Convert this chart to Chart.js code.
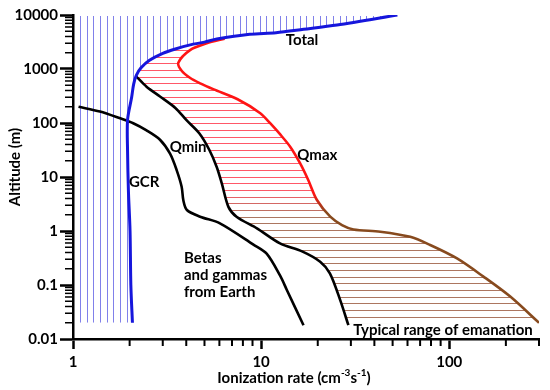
<!DOCTYPE html>
<html><head><meta charset="utf-8">
<script src="https://cdn.jsdelivr.net/npm/chart.js@4.4.1/dist/chart.umd.min.js"></script>
<style>html,body{margin:0;padding:0;background:#fff}</style>
</head><body>
<canvas id="c" width="550" height="390"></canvas>
<script>
// ---- data ----
const totalX = [2.07, 2.03, 2.01, 1.97, 1.95, 1.95, 2.05, 2.1, 2.17, 2.3, 2.55, 3.0, 3.5, 4.2, 5.0, 5.81, 8.7, 12.0, 16.8, 25.3, 53];
const totalY = [0.02, 0.1, 1, 5.7, 30, 114, 300, 520, 760, 1050, 1450, 1950, 2350, 2800, 3150, 3600, 4400, 4700, 5430, 6530, 10000];

const qmaxX = [6.4, 5.14, 4.19, 3.63, 3.78, 4.2, 4.74, 5.6, 7.5, 9.9, 11.2, 12.6, 14.3, 16.1, 17.8, 19.8, 23.3, 26.9, 31, 43, 62, 79.2, 110, 152, 211, 300];
const qmaxY = [3650, 2990, 2240, 1300, 930, 680, 543, 420, 275, 152, 98, 62, 36, 18, 8.8, 3.75, 1.84, 1.29, 1.07, 0.97, 0.78, 0.55, 0.31, 0.143, 0.061, 0.02];

const qminX = [2.16, 2.46, 2.9, 3.5, 4.0, 4.7, 5.3, 5.8, 6.18, 6.7, 7.4, 9.5, 12.6, 16.5, 20.6, 23.2, 26.3, 29.1];
const qminY = [740, 470, 310, 190, 114, 64, 32, 15.5, 7.6, 2.8, 1.84, 1.12, 0.59, 0.42, 0.27, 0.164, 0.053, 0.018];

const betasX = [1.07, 1.39, 1.78, 2.09, 2.46, 2.9, 3.28, 3.56, 3.78, 3.86, 4.03, 4.74, 6.04, 9.1, 10.7, 12.6, 13.7, 16.8];
const betasY = [200, 163, 122, 99, 73, 49, 27, 13.3, 6.6, 3.7, 2.45, 1.84, 1.39, 0.56, 0.38, 0.15, 0.081, 0.018];

const xTickValues = [1, 10, 100];
const xTickLabels = ['1', '10', '100'];
const yTickValues = [0.01, 0.1, 1, 10, 100, 1000, 10000];
const yTickLabels = ['0.01', '0.1', '1', '10', '100', '1000', '10000'];
const xMinorTicks = [2, 3, 4, 5, 6, 7, 8, 9, 20, 30, 40, 50, 60, 70, 80, 90, 200, 300];
const yMinorMult = [2, 3, 4, 5, 6, 7, 8, 9];

const HATCH_BOTTOM = 0.02;

const pts = (xs, ys) => xs.map((v, i) => ({x: v, y: ys[i]}));

const FONT = 'Lato, "Open Sans", sans-serif';
const FS = 15;
const RED = '#ff1414';
const BROWN = '#874a1e';

const annotations = [
  {text: 'Total', x: 16.5, y: 3445, align: 'center'},
  {text: 'Qmax', x: 19.9, y: 25.5, align: 'center'},
  {text: 'Qmin', x: 4.09, y: 36, align: 'center'},
  {text: 'GCR', x: 2.39, y: 8.1, align: 'center'},
  {text: 'Betas', x: 3.89, y: 0.316, align: 'left'},
  {text: 'and gammas', x: 3.89, y: 0.153, align: 'left'},
  {text: 'from Earth', x: 3.89, y: 0.074, align: 'left'},
  {text: 'Typical range of emanation', x: 30.9, y: 0.0147, align: 'left'}
];

const hatchPlugin = {
  id: 'hatch',
  beforeDatasetsDraw(chart) {
    const {ctx, chartArea: a, scales: {x, y}} = chart;
    const lTotal = chart.getDatasetMeta(0).dataset;
    const lQmax = chart.getDatasetMeta(1).dataset;
    const lQmin = chart.getDatasetMeta(2).dataset;
    [lTotal, lQmax, lQmin].forEach(l => l.updateControlPoints(a, 'x'));
    const yb = y.getPixelForValue(HATCH_BOTTOM);

    // blue vertical hatch (left/above Total)
    ctx.save();
    ctx.beginPath();
    ctx.rect(a.left, a.top, a.right - a.left, a.bottom - a.top);
    ctx.clip();
    ctx.beginPath();
    lTotal.path(ctx);
    ctx.lineTo(a.left, a.top);
    ctx.lineTo(a.left, yb);
    ctx.closePath();
    ctx.clip();
    ctx.strokeStyle = 'rgb(128,128,234)';
    ctx.lineWidth = 1;
    const step = (a.right - a.left) / 70;
    for (let px = a.left + 7; px < a.right; px += step) {
      ctx.beginPath();
      ctx.moveTo(Math.round(px) + 0.5, a.top + 1);
      ctx.lineTo(Math.round(px) + 0.5, yb);
      ctx.stroke();
    }
    ctx.restore();

    // red horizontal hatch (between Qmin/Total and Qmax)
    ctx.save();
    ctx.beginPath();
    ctx.rect(a.left, a.top, a.right - a.left, a.bottom - a.top);
    ctx.clip();
    const q0 = lQmax.points[0];
    ctx.beginPath();
    lQmax.path(ctx);
    ctx.lineTo(a.left, yb + 1);
    ctx.lineTo(a.left, q0.y);
    ctx.closePath();
    ctx.clip();
    ctx.beginPath();
    lTotal.path(ctx);
    ctx.lineTo(a.right, a.top);
    ctx.lineTo(a.right, yb + 1);
    ctx.closePath();
    ctx.clip();
    const m0 = lQmin.points[0];
    const mN = lQmin.points[lQmin.points.length - 1];
    ctx.beginPath();
    lQmin.path(ctx);
    ctx.lineTo(a.right, mN.y);
    ctx.lineTo(a.right, a.top);
    ctx.lineTo(m0.x, a.top);
    ctx.closePath();
    ctx.clip();
    const g = ctx.createLinearGradient(0, y.getPixelForValue(6), 0, y.getPixelForValue(1.8));
    g.addColorStop(0, 'rgb(255,88,104)');
    g.addColorStop(1, 'rgb(172,118,96)');
    ctx.strokeStyle = g;
    ctx.lineWidth = 1;
    const hstep = (a.bottom - a.top) / 48.6;
    for (let py = a.bottom - 15.6; py > a.top; py -= hstep) {
      ctx.beginPath();
      ctx.moveTo(a.left, Math.round(py) + 0.5);
      ctx.lineTo(a.right, Math.round(py) + 0.5);
      ctx.stroke();
    }
    ctx.restore();
  }
};

const textPlugin = {
  id: 'texts',
  afterDatasetsDraw(chart) {
    const {ctx, scales: {x, y}} = chart;
    ctx.save();
    ctx.fillStyle = '#000';
    ctx.font = 'bold ' + FS + 'px ' + FONT;
    ctx.textBaseline = 'middle';
    annotations.forEach(l => {
      ctx.textAlign = l.align;
      ctx.fillText(l.text, x.getPixelForValue(l.x), y.getPixelForValue(l.y));
    });
    ctx.restore();
  },
  afterDraw(chart) {
    const {ctx, chartArea: a, scales: {x, y}} = chart;
    ctx.save();
    // minor ticks
    ctx.strokeStyle = '#000';
    ctx.lineWidth = 2;
    xMinorTicks.forEach(v => {
      const px = x.getPixelForValue(v);
      ctx.beginPath();
      ctx.moveTo(px, a.bottom);
      ctx.lineTo(px, a.bottom + 7);
      ctx.stroke();
    });
    ctx.lineWidth = 1.5;
    for (let d = 0; d < yTickValues.length - 1; d++) {
      yMinorMult.forEach(m => {
        const py = y.getPixelForValue(yTickValues[d] * m);
        ctx.beginPath();
        ctx.moveTo(a.left - 8, py);
        ctx.lineTo(a.left, py);
        ctx.stroke();
      });
    }
    // axis titles
    ctx.fillStyle = '#000';
    ctx.textBaseline = 'middle';
    const bigF = 'bold ' + FS + 'px ' + FONT, supF = 'bold 10px ' + FONT;
    ctx.font = bigF;
    ctx.save();
    ctx.translate(15, (a.top + a.bottom) / 2 - 10);
    ctx.rotate(-Math.PI / 2);
    ctx.textAlign = 'center';
    ctx.fillText('Altitude (m)', 0, 0);
    ctx.restore();
    const parts = [
      {t: 'Ionization rate (cm', sup: false},
      {t: '-3', sup: true},
      {t: 's', sup: false},
      {t: '-1', sup: true},
      {t: ')', sup: false}
    ];
    let w = 0;
    parts.forEach(p => { ctx.font = p.sup ? supF : bigF; p.w = ctx.measureText(p.t).width; w += p.w; });
    let cx = 294 - w / 2;
    const ty = 378;
    ctx.textAlign = 'left';
    parts.forEach(p => {
      ctx.font = p.sup ? supF : bigF;
      ctx.fillText(p.t, cx, p.sup ? ty - 5 : ty);
      cx += p.w;
    });
    ctx.restore();
  }
};

function build() {
  new Chart(document.getElementById('c'), {
    type: 'scatter',
    data: {
      datasets: [
        {label: 'Total', data: pts(totalX, totalY), showLine: true, borderColor: '#1616dc', borderWidth: 3, pointRadius: 0, tension: 0.3, fill: false},
        {label: 'Qmax', data: pts(qmaxX, qmaxY), showLine: true, borderWidth: 2.6, pointRadius: 0, tension: 0.3, fill: false,
          borderColor: (c) => {
            const ch = c.chart;
            if (!ch.chartArea) return RED;
            const y = ch.scales.y;
            const g = ch.ctx.createLinearGradient(0, y.getPixelForValue(5), 0, y.getPixelForValue(2.2));
            g.addColorStop(0, RED); g.addColorStop(1, BROWN);
            return g;
          }},
        {label: 'Qmin', data: pts(qminX, qminY), showLine: true, borderColor: '#000', borderWidth: 2.6, pointRadius: 0, tension: 0.3, fill: false},
        {label: 'Betas and gammas from Earth', data: pts(betasX, betasY), showLine: true, borderColor: '#000', borderWidth: 2.6, pointRadius: 0, tension: 0.3, fill: false}
      ]
    },
    options: {
      responsive: false,
      animation: false,
      devicePixelRatio: 1,
      layout: {padding: {left: 0, top: 15, right: 11, bottom: 0}},
      plugins: {legend: {display: false}, tooltip: {enabled: false}},
      scales: {
        x: {
          type: 'logarithmic', min: 1, max: 300,
          afterBuildTicks: s => { s.ticks = xTickValues.map(v => ({value: v})); },
          afterFit: s => { s.height = 51; },
          ticks: {autoSkip: false, maxRotation: 0, padding: 4, color: '#000', font: {family: FONT, size: FS, weight: 'bold'},
            callback: (v, i) => xTickLabels[i]},
          grid: {display: true, drawOnChartArea: false, drawTicks: true, tickLength: 10, tickWidth: 2.5, tickColor: '#000'},
          border: {display: true, color: '#000', width: 2.5},
          title: {display: false}
        },
        y: {
          type: 'logarithmic', min: 0.01, max: 10000,
          afterBuildTicks: s => { s.ticks = yTickValues.map(v => ({value: v})); },
          afterFit: s => { s.width = 73; },
          ticks: {autoSkip: false, padding: 2, color: '#000', font: {family: FONT, size: FS, weight: 'bold'},
            callback: (v, i) => yTickLabels[i]},
          grid: {display: true, drawOnChartArea: false, drawTicks: true, tickLength: 13, tickWidth: 2.5, tickColor: '#000'},
          border: {display: true, color: '#000', width: 2.5},
          title: {display: false}
        }
      }
    },
    plugins: [hatchPlugin, textPlugin]
  });
}
if (document.fonts && document.fonts.load) {
  document.fonts.load('bold 15px Lato').then(build, build);
} else build();
</script>
</body></html>
